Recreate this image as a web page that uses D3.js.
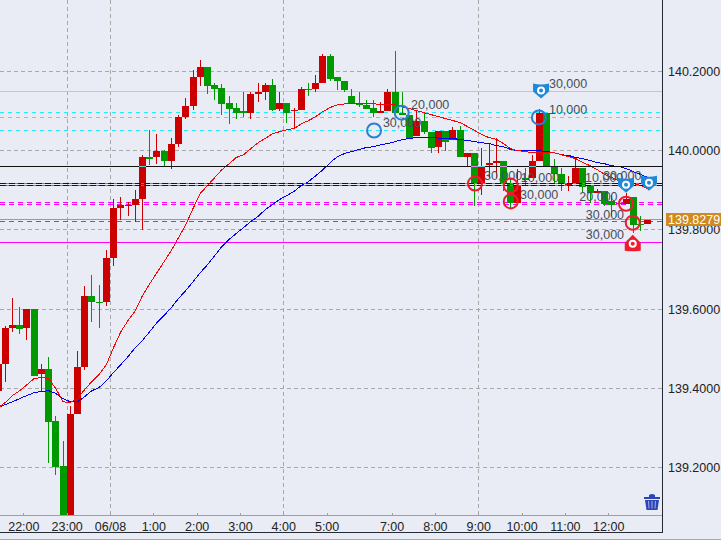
<!DOCTYPE html>
<html><head><meta charset="utf-8">
<script src="https://cdn.jsdelivr.net/npm/d3@7"></script>
<style>
html,body{margin:0;padding:0;background:#e9ecf4;overflow:hidden}
svg{display:block}
text{font-family:"Liberation Sans",Arial,sans-serif;font-size:12.5px}
</style></head><body>
<script>
const highs=[139.475,139.558,139.627,139.606,139.601,139.599,139.462,139.478,139.331,139.268,139.356,139.493,139.659,139.685,139.662,139.748,139.879,139.882,139.871,139.902,139.990,140.053,140.041,140.003,140.033,140.089,140.134,140.205,140.230,140.212,140.172,140.169,140.139,140.121,140.147,140.147,140.172,140.172,140.180,140.147,140.121,140.109,140.162,140.172,140.190,140.245,140.245,140.185,140.177,140.157,140.147,140.127,140.127,140.124,140.157,140.253,140.147,140.091,140.101,140.094,140.048,140.051,140.051,140.061,140.063,139.993,139.993,140.008,140.020,140.031,139.975,139.930,139.955,139.957,139.988,140.106,140.094,139.978,139.957,139.935,139.978,139.957,139.912,139.904,139.899,139.887,139.879,139.892,139.882,139.834,139.826];
const lows=[139.382,139.417,139.543,139.538,139.521,139.430,139.394,139.212,139.182,139.053,139.053,139.334,139.445,139.568,139.553,139.609,139.710,139.824,139.834,139.821,139.801,139.965,139.967,139.962,139.955,140.010,140.079,140.104,140.164,140.144,140.129,140.091,140.068,140.079,140.084,140.081,140.124,140.127,140.101,140.099,140.071,140.056,140.104,140.139,140.149,140.172,140.175,140.154,140.149,140.119,140.111,140.106,140.086,140.094,140.101,140.096,140.089,140.033,140.036,140.041,139.993,139.993,139.998,140.026,139.983,139.960,139.861,139.889,139.932,139.930,139.899,139.854,139.869,139.912,139.930,139.975,139.960,139.917,139.899,139.899,139.919,139.894,139.869,139.892,139.861,139.836,139.861,139.866,139.791,139.798,139.816];
const opens=[139.392,139.462,139.553,139.561,139.553,139.599,139.435,139.450,139.318,139.205,139.053,139.334,139.455,139.632,139.619,139.619,139.730,139.856,139.861,139.864,139.877,139.983,139.983,139.998,139.975,140.018,140.084,140.114,140.187,140.212,140.167,140.159,140.121,140.109,140.099,140.096,140.144,140.149,140.167,140.106,140.121,140.099,140.104,140.157,140.157,140.172,140.240,140.185,140.177,140.139,140.119,140.116,140.109,140.094,140.101,140.147,140.096,140.091,140.036,140.074,140.048,140.010,140.051,140.026,140.053,139.985,139.993,139.917,139.965,139.970,139.975,139.919,139.869,139.930,139.930,139.975,140.094,139.960,139.942,139.914,139.919,139.957,139.912,139.892,139.899,139.874,139.869,139.866,139.882,139.816,139.816];
const closes=[139.462,139.553,139.561,139.551,139.599,139.432,139.450,139.316,139.202,139.053,139.334,139.455,139.632,139.617,139.617,139.730,139.856,139.864,139.864,139.877,139.983,139.980,139.998,139.973,140.018,140.084,140.114,140.187,140.212,140.164,140.157,140.119,140.106,140.096,140.094,140.144,140.147,140.167,140.104,140.121,140.096,140.104,140.157,140.154,140.172,140.240,140.182,140.175,140.154,140.119,140.116,140.106,140.094,140.101,140.147,140.096,140.089,140.033,140.076,140.048,140.008,140.051,140.023,140.053,139.983,139.993,139.917,139.962,139.970,139.975,139.917,139.869,139.912,139.927,139.975,140.094,139.960,139.942,139.917,139.917,139.957,139.909,139.892,139.899,139.866,139.864,139.866,139.879,139.813,139.813,139.826];
const maFast=[139.351,139.364,139.382,139.394,139.409,139.425,139.427,139.425,139.399,139.366,139.364,139.374,139.397,139.417,139.435,139.460,139.503,139.543,139.571,139.596,139.634,139.664,139.692,139.720,139.748,139.781,139.813,139.854,139.892,139.912,139.932,139.952,139.967,139.983,139.990,140.005,140.020,140.031,140.043,140.048,140.053,140.056,140.068,140.076,140.086,140.099,140.109,140.116,140.118,140.119,140.119,140.119,140.119,140.116,140.116,140.116,140.111,140.106,140.101,140.096,140.091,140.086,140.081,140.076,140.071,140.061,140.051,140.041,140.033,140.029,140.018,140.005,140.000,139.998,139.995,139.995,139.995,139.995,139.990,139.985,139.980,139.970,139.962,139.952,139.940,139.932,139.924,139.919,139.917,139.912,139.904];
const maSlow=[139.351,139.359,139.366,139.374,139.382,139.389,139.392,139.394,139.387,139.374,139.366,139.366,139.379,139.394,139.402,139.419,139.440,139.460,139.480,139.503,139.521,139.543,139.566,139.584,139.604,139.627,139.647,139.669,139.692,139.712,139.735,139.758,139.776,139.791,139.806,139.821,139.834,139.851,139.864,139.877,139.887,139.897,139.912,139.922,139.937,139.952,139.970,139.985,139.993,139.998,140.003,140.008,140.010,140.015,140.018,140.023,140.028,140.031,140.033,140.033,140.033,140.032,140.031,140.031,140.028,140.026,140.023,140.020,140.018,140.013,140.010,140.003,140.000,140.000,140.000,140.000,139.998,139.995,139.990,139.988,139.983,139.980,139.975,139.970,139.967,139.962,139.960,139.955,139.947,139.940,139.932];

const priceTicks=[140.2,140.0,139.8,139.6,139.4,139.2];
const hourIdx=[4,10,16,22,28,34,40,46,55,61,67,73,79,85];
const hourLabels=["22:00","23:00","06/08","1:00","2:00","3:00","4:00","5:00","7:00","8:00","9:00","10:00","11:00","12:00"];
const vGridIdx=[10,16,40,67];

const cyanSolid=[140.149], cyanDashed=[140.096,140.084,140.051];
const blackSolid=139.960, blueDouble=[139.916,139.911];
const magentaDashed=[139.868,139.863,139.820], tanLine=139.826, magentaSolid=139.767;
const lastPriceLabel="139.8279", lastPriceAt=139.826;

const ringIdx=[52.07,55.9,74.9,66.05,71,71,86.97,87.9];
const ringPrice=[140.051,140.096,140.084,139.917,139.912,139.872,139.866,139.818];
const ringKind=["buy","buy","buy","sell","sell","sell","sell","sell"];
const pinIdx=[75.2,86.97,90.15,87.9];
const pinPrice=[140.152,139.914,139.919,139.765];
const pinKind=["buy","buy","buy","sell"];
const volumeLabels=["30,000","10,000","20,000","30,000","30,000","10,000","30,000","10,000","30,000","20,000","30,000","30,000"];
const volumeIdx=[76.3,76.3,57.2,53.3,67.3,72.4,72.3,81.3,83.8,80.5,81.4,81.4];
const volumePrice=[140.155,140.089,140.101,140.056,139.922,139.917,139.874,139.917,139.922,139.869,139.824,139.773];

const W=721,H=540,plotR=662,plotB=515;
const x=d3.scaleLinear().domain([0,90]).range([-1.92,647.9]);
const y=d3.scaleLinear().domain([140.2,139.2]).range([71.5,467.5]);
const C={red:"#cc0000",green:"#009900",grid:"#a8a8a8",blue:"#2b7fd4",pin:"#1f88d8",sell:"#ee1c2e"};

const svg=d3.select("body").append("svg").attr("width",W).attr("height",H);
svg.append("rect").attr("width",W).attr("height",H).attr("fill","#e9ecf4");
svg.append("clipPath").attr("id","plot").append("rect").attr("width",plotR).attr("height",plotB);
const plot=svg.append("g").attr("clip-path","url(#plot)");
const crisp=g=>g.attr("shape-rendering","crispEdges");
const hline=(g,p,color,dash,w=1)=>g.append("line").attr("x1",0).attr("x2",plotR)
  .attr("y1",Math.floor(y(p))+.5).attr("y2",Math.floor(y(p))+.5)
  .attr("stroke",color).attr("stroke-width",w).attr("stroke-dasharray",dash||null);

// grid
const grid=plot.append("g").call(crisp);
priceTicks.forEach(p=>hline(grid,p,C.grid,"4,3"));
vGridIdx.forEach(i=>grid.append("line").attr("x1",Math.round(x(i-.5))+.5).attr("x2",Math.round(x(i-.5))+.5)
  .attr("y1",0).attr("y2",plotB).attr("stroke",C.grid).attr("stroke-dasharray","4,3"));

// lines below candles
const under=plot.append("g").call(crisp);
cyanSolid.forEach(p=>hline(under,p,"#66eef8"));
cyanDashed.forEach(p=>hline(under,p,"#22eeff","4,4"));
magentaDashed.forEach(p=>hline(under,p,"#ff00ff","4.5,4.5"));
hline(under,tanLine,"#c8924a");
hline(under,magentaSolid,"#ff00ff");

// candles
const idx=d3.range(highs.length);
const candles=plot.append("g").call(crisp);
candles.selectAll("rect.w").data(idx).join("rect").attr("class","w")
  .attr("x",i=>Math.round(x(i)-3.5)+3).attr("width",1)
  .attr("y",i=>y(highs[i])).attr("height",i=>y(lows[i])-y(highs[i]))
  .attr("fill",i=>closes[i]>=opens[i]?C.red:C.green);
candles.selectAll("rect.b").data(idx).join("rect").attr("class","b")
  .attr("x",i=>Math.round(x(i)-3.5)).attr("width",7)
  .attr("y",i=>y(Math.max(opens[i],closes[i])))
  .attr("height",i=>Math.max(1,Math.abs(y(opens[i])-y(closes[i]))))
  .attr("fill",i=>closes[i]>=opens[i]?C.red:C.green);

// moving averages
const ma=d3.line().x((d,i)=>x(i)).y(d=>y(d));
plot.append("path").attr("d",ma(maSlow)).attr("fill","none").attr("stroke","#0000ff").attr("stroke-width",1).attr("shape-rendering","crispEdges");
plot.append("path").attr("d",ma(maFast)).attr("fill","none").attr("stroke","#ff0000").attr("stroke-width",1).attr("shape-rendering","crispEdges");

// lines above candles
const over=plot.append("g").call(crisp);
hline(over,blackSolid,"#111111");
const bY=y(blackSolid);
over.selectAll("rect.x").data(idx.filter(i=>y(Math.max(opens[i],closes[i]))<bY&&y(Math.min(opens[i],closes[i]))>bY))
  .join("rect").attr("class","x").attr("x",i=>Math.round(x(i)-3.5)).attr("width",7)
  .attr("y",Math.floor(bY)).attr("height",1).attr("fill",i=>closes[i]>=opens[i]?"#5fd6d6":"#f080f0");
blueDouble.forEach(p=>{hline(over,p,"#ff33dd");hline(over,p,"#0000cc","6,3");});

// volume labels
plot.append("g").selectAll("text").data(volumeLabels).join("text")
  .attr("x",(d,i)=>x(volumeIdx[i])).attr("y",(d,i)=>y(volumePrice[i])-1.5).attr("fill","#484d58").text(d=>d);

// trade rings
plot.append("g").selectAll("circle").data(ringIdx).join("circle")
  .attr("cx",d=>x(d)).attr("cy",(d,i)=>y(ringPrice[i])).attr("r",7).attr("fill","none")
  .attr("stroke-width",2).attr("stroke",(d,i)=>ringKind[i]==="buy"?C.blue:C.sell);

// pins
const pins=plot.append("g").selectAll("g").data(pinIdx).join("g")
  .attr("transform",(d,i)=>`translate(${x(d)},${y(pinPrice[i])})`);
pins.append("path").attr("fill",(d,i)=>pinKind[i]==="buy"?C.pin:C.sell)
  .attr("d",(d,i)=>pinKind[i]==="buy"?"M-8,-7 Q0,-5 8,-7 L8,1 L0,8 L-8,1 Z":"M-8,7 Q0,8 8,7 L8,-1 L0,-9 L-8,-1 Z");
pins.append("circle").attr("r",4).attr("fill","#fff");
pins.append("circle").attr("r",2).attr("fill",(d,i)=>pinKind[i]==="buy"?C.pin:C.sell);

// axes
const yAxis=d3.axisRight(y).tickValues(priceTicks).tickFormat(d3.format(".4f")).tickSize(0).tickPadding(0);
svg.append("g").attr("transform","translate(668,0)").call(yAxis)
  .call(g=>g.select(".domain").remove())
  .call(g=>g.selectAll("text").attr("fill","#222").attr("x",0).style("font-size","12.5px").style("font-family",'"Liberation Sans"'));
const xAxis=d3.axisBottom(x).tickValues(hourIdx.map(i=>i-.5))
  .tickFormat((d,i)=>hourLabels[i]).tickSizeInner(-3).tickSizeOuter(0).tickPadding(7);
svg.append("g").attr("transform",`translate(0,${plotB+.5})`).call(xAxis)
  .call(g=>g.select(".domain").remove())
  .call(g=>g.selectAll("line").attr("stroke","#a0a0a0").attr("shape-rendering","crispEdges"))
  .call(g=>g.selectAll("text").attr("fill","#222").style("font-size","12.5px").style("font-family",'"Liberation Sans"'));

// frame
const frame=svg.append("g").call(crisp);
frame.append("line").attr("x1",0).attr("x2",plotR).attr("y1",plotB+.5).attr("y2",plotB+.5).attr("stroke","#a0a0a0");
frame.append("line").attr("x1",plotR+.5).attr("x2",plotR+.5).attr("y1",0).attr("y2",533).attr("stroke","#222a33");
frame.append("line").attr("x1",0).attr("x2",plotR+1).attr("y1",532.5).attr("y2",532.5).attr("stroke","#222a33");
frame.append("line").attr("x1",0).attr("x2",W).attr("y1",539.5).attr("y2",539.5).attr("stroke","#a8a8a8");

// last price tag
const tagY=Math.floor(y(lastPriceAt));
svg.append("rect").attr("x",666).attr("y",tagY-6).attr("width",55).attr("height",13).attr("fill","#d18a1e");
svg.append("text").attr("x",668).attr("y",tagY+4.5).attr("fill","#fff").text(lastPriceLabel);

// trash icon
const trash=svg.append("g").attr("transform","translate(652,502)").attr("fill","#2d44b4");
trash.append("path").attr("d","M-8,-5 L-3,-5 L-3,-7 Q0,-9 3,-7 L3,-5 L8,-5 L8,-3 L-8,-3 Z");
trash.append("path").attr("d","M-7,-2 L7,-2 L5.5,8 L-5.5,8 Z");
[-3.5,0,3.5].forEach(d=>trash.append("line").attr("x1",d).attr("x2",d*.85).attr("y1",-1).attr("y2",6.5)
  .attr("stroke","#9fb0e8").attr("stroke-width",1));
</script>
</body></html>
